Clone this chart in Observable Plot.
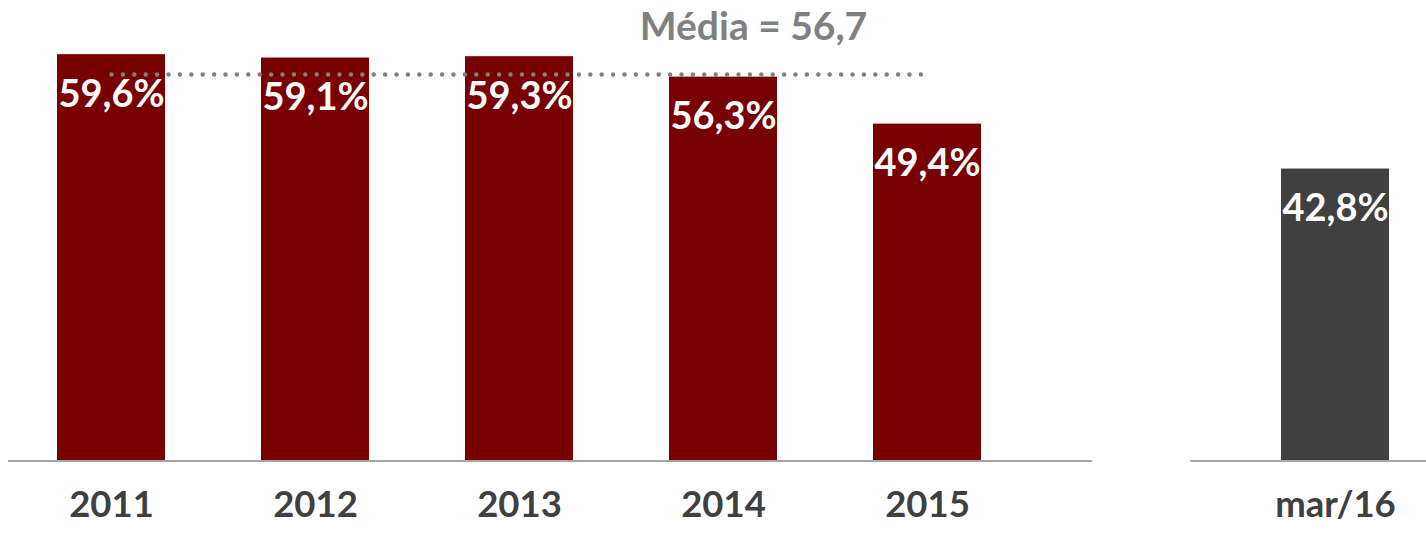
<!DOCTYPE html>
<html>
<head>
<meta charset="utf-8">
<script src="https://cdn.jsdelivr.net/npm/d3@7"></script>
<script src="https://cdn.jsdelivr.net/npm/@observablehq/plot@0.6"></script>
<style>
  html, body { margin: 0; padding: 0; background: #fff; }
  #chart svg { font-family: Lato, "Open Sans", sans-serif; display: block; }
</style>
</head>
<body>
<div id="chart"></div>
<script>
const categories = ["2011", "2012", "2013", "2014", "2015", "mar/16"];
const values = [59.6, 59.1, 59.3, 56.3, 49.4, 42.8];
const meanValue = 56.7;
const meanYears = ["2011", "2012", "2013", "2014", "2015"];
const meanLabel = "Média = 56,7";

const spacer = " ";
const xDomain = [...categories.slice(0, 5), spacer, categories[5]];
const data = categories.map((c, i) => ({cat: c, value: values[i]}));
const meanData = meanYears.map(c => ({cat: c, value: meanValue}));
const fmt = v => v.toFixed(1).replace(".", ",") + "%";

const W = 1426, H = 533;
const plot = Plot.plot({
  width: W,
  height: H,
  marginTop: 0,
  marginBottom: 73,
  marginLeft: 57,
  marginRight: 36,
  x: {domain: xDomain, paddingInner: 0.47, paddingOuter: 0, axis: null},
  y: {domain: [0, 67.55], axis: null},
  marks: [
    Plot.barY(data, {
      x: "cat", y: "value",
      fill: d => d.cat === "mar/16" ? "#404040" : "#780000"
    }),
    Plot.lineY(meanData, {
      x: "cat", y: "value",
      stroke: "#808080", strokeWidth: 4.5,
      strokeDasharray: "0 11.4", strokeLinecap: "round"
    }),
    Plot.text(data, {
      x: "cat", y: "value", text: d => fmt(d.value),
      dy: 40, fill: "white", fontSize: 38, fontWeight: "bold"
    }),
    Plot.text(categories, {
      x: d => d, frameAnchor: "bottom", dy: 56,
      fill: "#404040", fontSize: 36.5, fontWeight: "bold"
    }),
    Plot.text([meanLabel], {
      x: () => "2014", y: () => meanValue, text: d => d,
      dx: 30, dy: -47, fill: "#808080", fontSize: 39, fontWeight: "bold"
    })
  ]
});

// baseline segments derived from the x scale
const xs = plot.scale("x"), ys = plot.scale("y");
const step = xs.step, bw = xs.bandwidth;
const gapCenter = xs.apply(spacer) + bw / 2;
const y0 = ys.apply(0);
const segs = [
  [xs.apply(categories[0]) - 0.24 * step, gapCenter - 0.19 * step],
  [gapCenter + 0.29 * step, W]
];
const svg = d3.select(plot);
svg.selectAll("line.base").data(segs).join("line")
  .attr("class", "base")
  .attr("x1", d => d[0]).attr("x2", d => d[1])
  .attr("y1", y0 + 1).attr("y2", y0 + 1)
  .attr("stroke", "#a6a6a6").attr("stroke-width", 2);

document.getElementById("chart").appendChild(plot);
</script>
</body>
</html>
